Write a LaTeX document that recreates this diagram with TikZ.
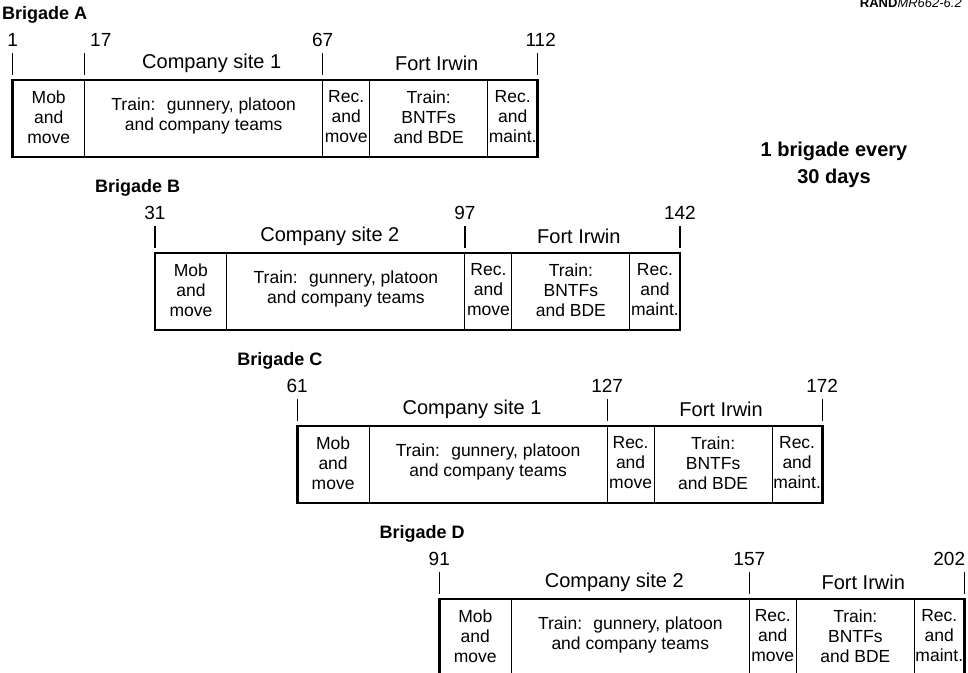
\documentclass[tikz,border=0pt]{standalone}
\usepackage{fontspec}
\setmainfont{Liberation Sans}
\tikzset{
  cell/.style={align=center,inner sep=0pt,font=\fontsize{17.5}{20}\selectfont},
  daynum/.style={inner sep=0pt,font=\fontsize{19}{22}\selectfont},
  sitelab/.style={inner sep=0pt,font=\fontsize{20}{24}\selectfont},
  brig/.style={anchor=west,inner sep=0pt,font=\fontsize{18}{22}\selectfont\bfseries},
  tickline/.style={line width=1.2pt},
  frame/.style={line width=2.8pt},
  divider/.style={line width=0.9pt}
}

\begin{document}
\begin{tikzpicture}[x=1pt,y=-1pt]
\useasboundingbox (0,0) rectangle (968,672);
\clip (0,0) rectangle (968,672);
\newcommand{\brigaderow}[9]{%
  \begin{scope}[shift={(#1,#2)}]
  \pgfmathsetmacro{\labx}{max(-60,2-#1)}
  \node[brig] (lab#3) at (\labx,-65) {Brigade #3};
  \node[daynum] (d0#3) at (0,-40) {#4};
  \node[daynum] (d1#3) at (310,-40) {#5};
  \node[daynum,#9] (d2#3) at (525,-40) {#6};
  \draw[tickline] (0,-27) -- (0,-5);
  \draw[tickline] (310,-27) -- (310,-5);
  \draw[tickline] (525,-27) -- (525,-5);
  \node[sitelab] (site#3) at (#8,-17) {#7};
  \node[sitelab] (fort#3) at (424,-17) {Fort Irwin};
  \draw[divider] (72,0) -- (72,77);
  \draw[divider] (310,0) -- (310,77);
  \draw[divider] (357,0) -- (357,77);
  \draw[divider] (475,0) -- (475,77);
  \draw[frame] (0,0) rectangle (525,77);
  \node[cell] (mob#3) at (36,37) {Mob\\and\\move};
  \node[cell] (gun#3) at (191,36) {Train:~ gunnery, platoon\\and company teams};
  \node[cell] (recm#3) at (333.5,37) {Rec.\\and\\move};
  \node[cell] (bntf#3) at (416,37) {Train:\\BNTFs\\and BDE};
  \node[cell] (maint#3) at (500,37) {Rec.\\and\\maint.};
  \end{scope}
}
\brigaderow{12.7}{80}{A}{1}{67}{112}{Company site 1}{199}{xshift=3pt}
\draw[tickline] (84.7,53) -- (84.7,75);
\node[daynum,anchor=west] (d17A) at (90,40) {17};
\brigaderow{154.9}{253}{B}{31}{97}{142}{Company site 2}{175}{}
\brigaderow{297.1}{426}{C}{61}{127}{172}{Company site 1}{175}{}
\brigaderow{439.3}{599}{D}{91}{157}{202}{Company site 2}{175}{anchor=east,xshift=1pt}
\node[align=center,inner sep=0pt,font=\fontsize{20}{27}\selectfont\bfseries] (rate) at (834,165) {1 brigade every\\30 days};
\node[anchor=base east,inner sep=0pt,font=\fontsize{13}{15}\selectfont] (figtag) at (962,7) {\textbf{RAND}\textit{MR662-6.2}};
\end{tikzpicture}
\end{document}
